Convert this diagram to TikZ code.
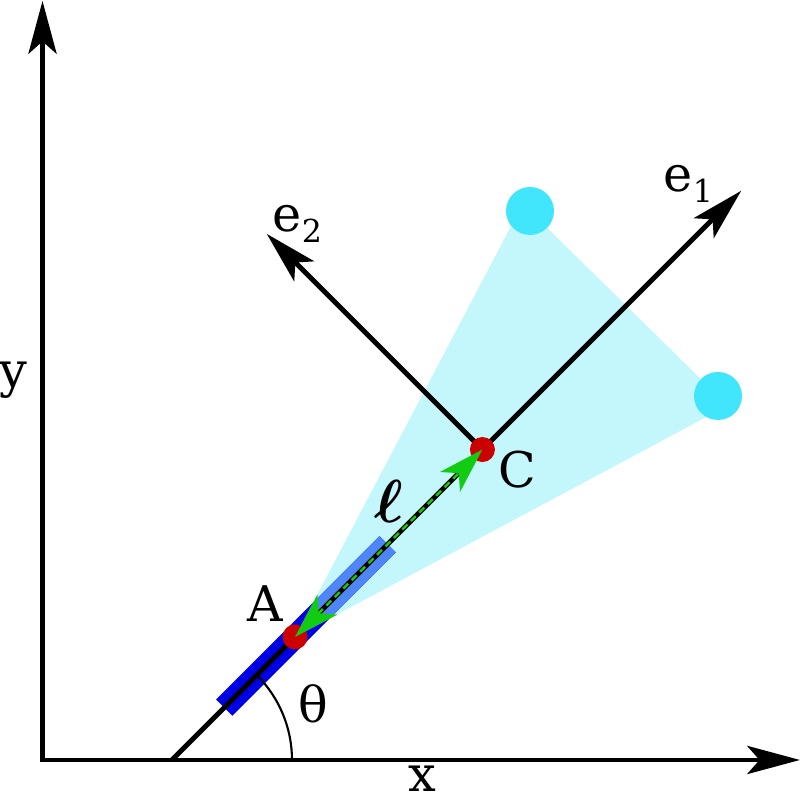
\documentclass[tikz,border=0pt]{standalone}
\usepackage{amsmath}
\usepackage{fontspec}
\setmainfont{DejaVu Serif}
\usetikzlibrary{arrows.meta,calc}
\definecolor{wedgecyan}{HTML}{C3F7FC}
\definecolor{sensorcyan}{HTML}{42E6FC}
\definecolor{dotred}{HTML}{CC0000}
\definecolor{arrowgreen}{HTML}{11CC11}
\definecolor{bardark}{HTML}{0000E6}
\definecolor{barlight}{HTML}{4F86F7}
\newcommand{\axsub}[1]{\raisebox{-3pt}{\fontsize{9}{9}\selectfont #1}}

\begin{document}
\begin{tikzpicture}[>=Stealth,
  every node/.style={font=\fontsize{14}{16}\selectfont, inner sep=0pt},
  axis/.style={line width=1.4pt, -{Stealth[length=15pt,width=8pt,inset=3.5pt]}},
  dot/.style={circle,fill=dotred,minimum size=0.25cm},
  sensor/.style={circle,fill=sensorcyan,minimum size=0.48cm}]
  \useasboundingbox (0,0) rectangle (8.02,8.01);
  \coordinate (corner) at (0.425,0.41);
  \coordinate (ytip) at (0.425,8.0);
  \coordinate (xtip) at (8.0,0.41);
  \coordinate (O) at (1.72,0.41);
  \coordinate (A) at ($(O)+(45:1.74)$);
  \coordinate (C) at ($(O)+(45:4.39)$);
  \coordinate (P1) at (5.30,5.90);
  \coordinate (P2) at (7.18,4.05);
  % field of view
  \fill[wedgecyan] (A) -- (5.18,5.88) -- (P1) -- (P2) -- (7.12,3.87) -- cycle;
  % sensor bar
  \fill[bardark, shift={(O)}, rotate=45] (0.74,-0.115) rectangle (3.05,0.115);
  \begin{scope}
    \clip (A) -- (5.18,5.88) -- (P1) -- (P2) -- (7.12,3.87) -- cycle;
    \fill[barlight, shift={(O)}, rotate=45] (0.74,-0.115) rectangle (3.05,0.115);
  \end{scope}
  \node[sensor] (s1) at (P1) {};
  \node[sensor] (s2) at (P2) {};
  % frames
  \draw[axis, {Stealth[length=15pt,width=8pt,inset=3.5pt]}-{Stealth[length=15pt,width=8pt,inset=3.5pt]}]
    (ytip) -- (corner) -- (xtip);
  \draw[line width=1.4pt] (O) -- (C);
  \draw[axis] (C) -- ++(45:3.66) coordinate (e1tip);
  \draw[axis] (C) -- ++(135:3.05) coordinate (e2tip);
  \draw[line width=0.6pt] ($(O)+(1.20,0)$) arc (0:45:1.20);
  \node[dot] (nA) at (A) {};
  \node[dot] (nC) at (C) {};
  \draw[arrowgreen, line width=0.7pt, dash pattern=on 2pt off 1.4pt,
    {Stealth[length=13pt,width=8pt,inset=3.5pt]}-{Stealth[length=13pt,width=8pt,inset=3.5pt]}] (A) -- (C);
  % labels
  \node[anchor=base west] (lA) at (2.47,1.79) {A};
  \node[anchor=base west] (lC) at (4.98,3.13) {C};
  \node[anchor=base west] (lth) at (2.98,0.78) {θ};
  \node[anchor=base west] (lx) at (4.08,0.09) {x};
  \node[anchor=base west] (ly) at (-0.01,4.13) {y};
  \node[anchor=base west] (le1) at (6.63,6.09) {e\axsub{1}};
  \node[anchor=base west] (le2) at (2.72,5.69) {e\axsub{2}};
  \node[anchor=base west, font=\fontsize{17}{19}\selectfont] (lell) at (3.74,2.78) {$\boldsymbol{\ell}$};
\end{tikzpicture}
\end{document}
